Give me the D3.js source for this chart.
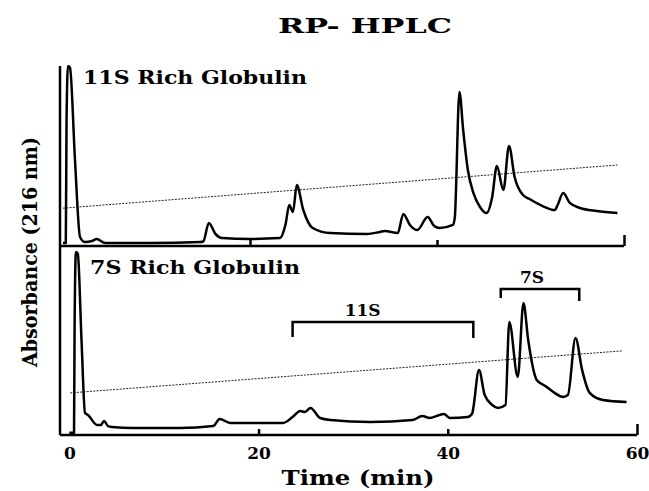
<!DOCTYPE html>
<html>
<head>
<meta charset="utf-8">
<script src="https://cdn.jsdelivr.net/npm/d3@7"></script>
<style>
  body { margin: 0; background: #fff; }
  svg { display: block; }
  text { font-family: "DejaVu Serif", "Liberation Serif", serif; font-weight: bold; fill: #000; }
</style>
</head>
<body>
<div id="chart"></div>
<script>
// retention time (min) / absorbance (relative, 0-100)
const time11S = [0, 0.3, 0.38, 0.53, 0.75, 1.28, 1.82, 2.35, 3.1, 3.6, 4.5, 9.3, 14.7, 15.0, 15.6, 16.3, 17.0,
  20, 23.2, 23.8, 24.2, 24.6, 25.0, 25.7, 26.7, 28.6, 32.5, 33.9, 34.4, 35.8, 36.4, 37.1, 37.9, 39.0, 39.7,
  40.3, 41.7, 41.9, 42.4, 42.8, 43.3, 43.9, 44.6, 45.3, 45.9, 46.4, 47.1, 47.7, 48.3, 49.2, 49.9, 51.3, 52.6,
  52.9, 53.5, 54.2, 55.3, 57.1, 59.3];
const abs11S = [1.7, 1.7, 70, 100, 99, 48, 5, 2.2, 2.8, 3.9, 1.7, 1.7, 2.2, 2.5, 12.8, 6.7, 4.4,
  3.9, 4.4, 12, 22.8, 18.9, 33.9, 20, 10, 7.2, 6.7, 7.8, 8.3, 7.2, 17.8, 11.7, 8.9, 16.1, 11.1,
  10, 11.7, 15.6, 85.6, 64.4, 42.2, 29.4, 21.7, 18.3, 27.2, 44.4, 31.1, 55.6, 38.3, 28.3, 26.1, 22.2, 20,
  22.8, 29.4, 23.9, 21.1, 19.4, 18.3];

const time7S = [0, 0.5, 0.56, 0.7, 0.9, 1.29, 1.66, 1.98, 2.93, 3.35, 3.67, 4.09, 4.51, 6.73, 11.7, 15.2, 15.9,
  17.0, 22.6, 23.6, 24.4, 24.9, 25.5, 26.5, 27.6, 31.8, 36.3, 37.3, 38.1, 39.6, 40.2, 42.1, 42.6, 42.7, 43.3,
  43.9, 44.7, 45.3, 46.1, 46.5, 47.4, 48.0, 48.5, 49.4, 50.3, 50.6, 51.3, 52.2, 52.7, 53.5, 54.2, 55.0, 56.4, 58.9];
const abs7S = [1.2, 1.2, 60, 100, 99, 52, 12, 10.9, 5.5, 5.5, 7.7, 4.9, 4.4, 3.8, 3.8, 4.9, 8.7,
  6.6, 6.6, 9.8, 13.1, 12.6, 14.8, 9.3, 8.2, 7.1, 8.2, 10.4, 9.3, 11.5, 9.3, 9.8, 12, 14.8, 35.5,
  21.9, 16.4, 14.8, 16.4, 61.7, 31.7, 72.1, 51.9, 30.1, 26.8, 25.7, 23, 20.8, 21.9, 53, 35.5, 23, 19.1, 18];

// gradient trace (dotted), start and end
const gradTime11S = [0, 59.3];
const gradAbs11S = [21, 45];
const gradTime7S = [0.1, 58.5];
const gradAbs7S = [23, 46];

// fraction brackets on the 7S panel
const bracketNames = ["11S", "7S"];
const bracketStart = [23.6, 45.6];
const bracketEnd = [42.7, 53.9];
const bracketLevel = [61.7, 79.8];
const bracketLeftEnd = [53.6, 74.9];
const bracketRightEnd = [53, 73.2];
const bracketLabelTime = [31.0, 48.9];

const xTicks = [0, 20, 40, 60];

const width = 649,
  height = 491,
  axisLeft = 60;

const panels = [
  { name: "11S Rich Globulin", time: time11S, abs: abs11S, gradTime: gradTime11S, gradAbs: gradAbs11S,
    top: 66, bottom: 246, x0: 63, x1: 624, labelX: 83, labelY: 84, labelW: 224, tickLabels: false },
  { name: "7S Rich Globulin", time: time7S, abs: abs7S, gradTime: gradTime7S, gradAbs: gradAbs7S,
    top: 252, bottom: 435, x0: 69.3, x1: 637, labelX: 90, labelY: 274, labelW: 210, tickLabels: true },
];

const svg = d3
  .select("#chart")
  .append("svg")
  .attr("width", width)
  .attr("height", height)
  .attr("viewBox", `0 0 ${width} ${height}`);

svg.append("rect").attr("width", width).attr("height", height).attr("fill", "#fff");

panels.forEach((p, k) => {
  const xScale = d3.scaleLinear().domain([0, 60]).range([p.x0, p.x1]);
  const yScale = d3.scaleLinear().domain([0, 100]).range([p.bottom, p.top]);

  const g = svg.append("g").attr("class", "panel");

  svg
    .append("clipPath")
    .attr("id", `clip${k}`)
    .append("rect")
    .attr("x", axisLeft)
    .attr("y", p.top - 1)
    .attr("width", width - axisLeft)
    .attr("height", p.bottom - p.top + 1);

  // gradient (dotted)
  const grad = d3.zip(p.gradTime, p.gradAbs);
  g.append("path")
    .datum(grad)
    .attr("fill", "none")
    .attr("stroke", "#222")
    .attr("stroke-width", 1)
    .attr("stroke-dasharray", "2,1.3")
    .attr("d", d3.line().x((d) => xScale(d[0])).y((d) => yScale(d[1])));

  // chromatogram
  const trace = d3.zip(p.time, p.abs);
  const line = d3
    .line()
    .curve(d3.curveMonotoneX)
    .x((d) => xScale(d[0]))
    .y((d) => yScale(d[1]));

  g.append("path")
    .datum(trace)
    .attr("clip-path", `url(#clip${k})`)
    .attr("fill", "none")
    .attr("stroke", "#000")
    .attr("stroke-width", 2.5)
    .attr("stroke-linejoin", "round")
    .attr("d", line);

  // x axis: inward ticks, no tick at 0
  const xAxis = d3
    .axisBottom(xScale)
    .tickValues(xTicks)
    .tickSize(-6)
    .tickPadding(8)
    .tickFormat((d) => (p.tickLabels ? d : ""));
  const xAxisGroup = g.append("g").attr("transform", `translate(0, ${p.bottom})`).call(xAxis);
  xAxisGroup.select(".domain").remove();
  xAxisGroup.selectAll(".tick line").attr("stroke", "#000").attr("stroke-width", 2.5)
    .attr("y2", (d) => (d === 60 ? -11 : d === 0 ? 0 : -6));
  xAxisGroup.selectAll(".tick text")
    .attr("font-size", "17px")
    .attr("font-family", "DejaVu Serif, serif")
    .attr("font-weight", "bold")
    .attr("fill", "#000")
    .attr("dy", "0.95em");

  g.append("line")
    .attr("x1", axisLeft)
    .attr("x2", p.x1)
    .attr("y1", p.bottom)
    .attr("y2", p.bottom)
    .attr("stroke", "#000")
    .attr("stroke-width", 2.5);

  g.append("text")
    .attr("x", p.labelX)
    .attr("y", p.labelY)
    .attr("font-size", "19px")
    .attr("textLength", p.labelW)
    .attr("lengthAdjust", "spacingAndGlyphs")
    .text(p.name);

  if (k === 1) {
    // 11S / 7S fraction brackets
    const br = bracketNames.map((n, i) => ({
      name: n, start: bracketStart[i], end: bracketEnd[i], level: bracketLevel[i],
      left: bracketLeftEnd[i], right: bracketRightEnd[i], labelT: bracketLabelTime[i],
    }));
    const bg = g.selectAll(".bracket").data(br).enter().append("g").attr("class", "bracket");
    bg.append("path")
      .attr("fill", "none")
      .attr("stroke", "#000")
      .attr("stroke-width", 2.5)
      .attr("d", (d) =>
        d3.line()([
          [xScale(d.start), yScale(d.left)],
          [xScale(d.start), yScale(d.level)],
          [xScale(d.end), yScale(d.level)],
          [xScale(d.end), yScale(d.right)],
        ])
      );
    bg.append("text")
      .attr("x", (d) => xScale(d.labelT))
      .attr("y", (d) => yScale(d.level) - 6)
      .attr("text-anchor", "middle")
      .attr("font-size", "17px")
      .text((d) => d.name);
  }
});

// left axis spanning both panels
svg.append("line")
  .attr("x1", axisLeft)
  .attr("x2", axisLeft)
  .attr("y1", panels[0].top)
  .attr("y2", panels[1].bottom)
  .attr("stroke", "#000")
  .attr("stroke-width", 2.5);

svg.append("text")
  .attr("x", 365)
  .attr("y", 33)
  .attr("text-anchor", "middle")
  .attr("font-size", "21px")
  .attr("textLength", 174)
  .attr("lengthAdjust", "spacingAndGlyphs")
  .text("RP- HPLC");

svg.append("text")
  .attr("transform", "translate(37, 252) rotate(-90)")
  .attr("text-anchor", "middle")
  .attr("font-size", "21px")
  .attr("textLength", 230)
  .attr("lengthAdjust", "spacingAndGlyphs")
  .text("Absorbance (216 nm)");

svg.append("text")
  .attr("x", 358)
  .attr("y", 485)
  .attr("text-anchor", "middle")
  .attr("font-size", "21px")
  .attr("textLength", 153)
  .attr("lengthAdjust", "spacingAndGlyphs")
  .text("Time (min)");
</script>
</body>
</html>
